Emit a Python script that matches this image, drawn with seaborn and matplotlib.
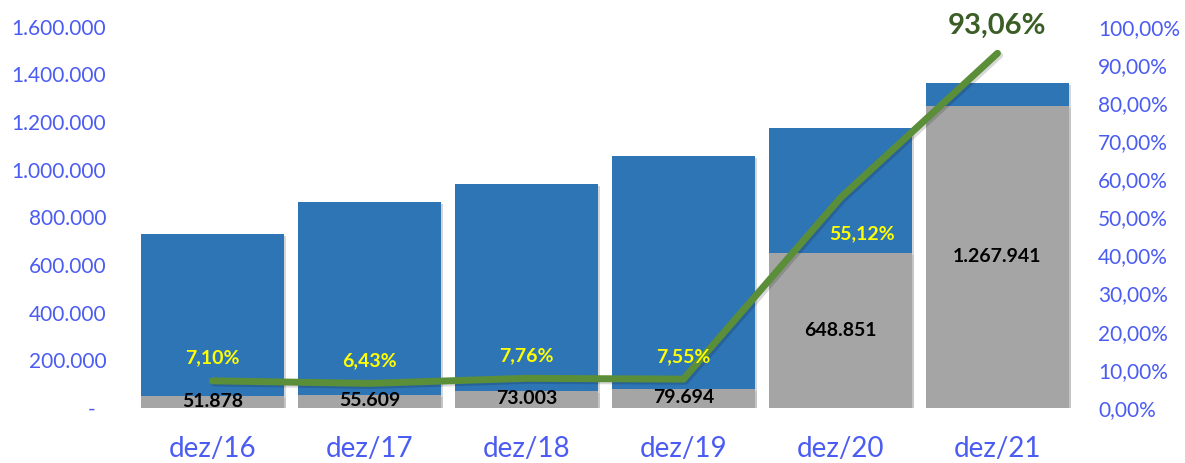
import matplotlib
matplotlib.use("Agg")
import matplotlib.pyplot as plt
import matplotlib.patheffects as pe
from matplotlib.ticker import FuncFormatter, MultipleLocator
import seaborn as sns
import pandas as pd

sns.set_style("white")
plt.rcParams['font.family'] = ['Lato', 'DejaVu Sans']

# -----------------------------------------------------
# dados
# -----------------------------------------------------
periodos = ['dez/16', 'dez/17', 'dez/18', 'dez/19', 'dez/20', 'dez/21']
totais = [731000, 866000, 941000, 1056000, 1177000, 1363000]
parcela = [51878, 55609, 73003, 79694, 648851, 1267941]
percentual = [7.10, 6.43, 7.76, 7.55, 55.12, 93.06]

df = pd.DataFrame({'periodo': periodos, 'total': totais,
                   'parcela': parcela, 'pct': percentual})

AZUL_TICK = '#4B5CF2'
AZUL_BARRA = '#2E75B6'
CINZA = '#A5A5A5'
VERDE = '#5A8E38'

fig = plt.figure(figsize=(11.85, 4.63), dpi=100)
ax = fig.add_axes([0.113, 0.119, 0.795, 0.823])

sombra = [pe.SimplePatchShadow(offset=(1.5, -1.5), shadow_rgbFace='#BBBBBB', alpha=0.6), pe.Normal()]

sns.barplot(data=df, x='periodo', y='total', order=periodos, color=AZUL_BARRA,
            width=0.91, saturation=1, linewidth=0, ax=ax)
sns.barplot(data=df, x='periodo', y='parcela', order=periodos, color=CINZA,
            width=0.91, saturation=1, linewidth=0, ax=ax)
for p in ax.patches:
    p.set_path_effects(sombra)

ax.set_ylim(0, 1600000)
ax.set_xlim(-0.5, len(periodos) - 0.5)
ax.yaxis.set_major_locator(MultipleLocator(200000))
ax.yaxis.set_major_formatter(FuncFormatter(
    lambda v, _: '-  ' if v == 0 else f'{int(v):,}'.replace(',', '.')))
ax.set_xlabel('')
ax.set_ylabel('')
ax.tick_params(axis='y', colors=AZUL_TICK, labelsize=15, length=0, pad=20)
ax.tick_params(axis='x', colors=AZUL_TICK, labelsize=20, length=0, pad=20)
for s in ax.spines.values():
    s.set_visible(False)

# rótulos das parcelas (centro da barra cinza)
for i, v in enumerate(parcela):
    ax.text(i, v / 2 if v > 100000 else v / 2 + 2000, f'{v:,}'.replace(',', '.'),
            ha='center', va='center', fontsize=14, fontweight='bold', color='black')

# linha percentual no eixo secundário
ax2 = ax.twinx()
sns.lineplot(x=list(range(len(periodos))), y=percentual, color=VERDE, linewidth=5,
             ax=ax2, solid_capstyle='round',
             path_effects=[pe.SimpleLineShadow(offset=(1.5, -1.5), alpha=0.15), pe.Normal()])
ax2.set_ylim(0, 100)
ax2.yaxis.set_major_locator(MultipleLocator(10))
ax2.yaxis.set_major_formatter(FuncFormatter(lambda v, _: f'{v:.2f}'.replace('.', ',') + '%'))
ax2.tick_params(axis='y', colors=AZUL_TICK, labelsize=15, length=0, pad=16)
for s in ax2.spines.values():
    s.set_visible(False)
ax2.set_ylabel('')

for i, v in enumerate(percentual):
    txt = f'{v:.2f}'.replace('.', ',') + '%'
    if i < 4:
        ax2.text(i, v + 6.0, txt, ha='center', va='center', fontsize=14,
                 fontweight='bold', color='#FFFF00')
    elif i == 4:
        ax2.text(i + 0.14, v - 9.3, txt, ha='center', va='center', fontsize=14,
                 fontweight='bold', color='#FFFF00')
    else:
        ax2.text(i, v + 7.3, txt, ha='center', va='center', fontsize=21,
                 fontweight='bold', color='#3B5E26')

fig.savefig('out.png', dpi=100, facecolor='white')
